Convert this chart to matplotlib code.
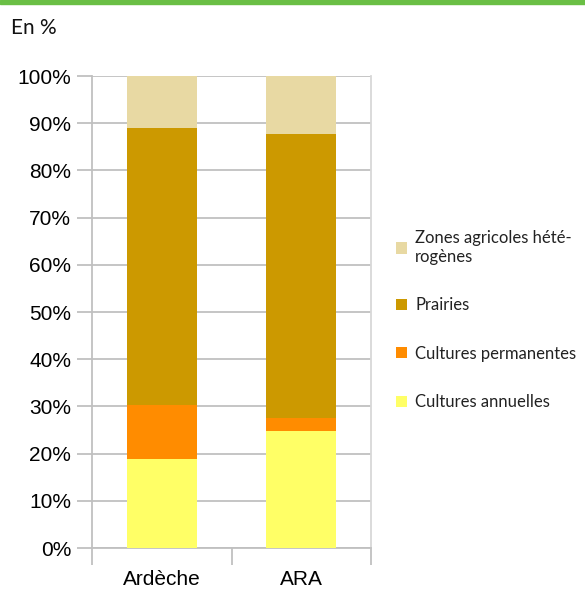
import numpy as np
import matplotlib
matplotlib.use("Agg")
import matplotlib.pyplot as plt
from matplotlib.patches import Patch

# data (in %)
categories = ["Ardèche", "ARA"]
series_names = ["Cultures annuelles", "Cultures permanentes", "Prairies",
                "Zones agricoles hété-\nrogènes"]
annuelles = [18.8, 24.7]
permanentes = [11.6, 2.8]
prairies = [58.6, 60.2]
zones_hetero = [11.0, 12.3]
colors = ["#ffff66", "#ff8c00", "#cc9900", "#e8d9a3"]

series = [annuelles, permanentes, prairies, zones_hetero]

fig = plt.figure(figsize=(5.85, 5.92), dpi=100)
ax = fig.add_axes([92 / 585, 1 - 548 / 592, (371 - 92) / 585, (548 - 76) / 592])

x = np.arange(len(categories))
bottom = np.zeros(len(categories))
for vals, col in zip(series, colors):
    ax.bar(x, vals, width=0.5, bottom=bottom, color=col, zorder=3)
    bottom += np.array(vals)

ax.set_xlim(-0.5, 1.5)
ax.set_ylim(0, 100)
ax.set_yticks(np.arange(0, 101, 10))
ax.set_yticklabels([f"{v}%" for v in range(0, 101, 10)],
                   fontsize=15, family="Liberation Sans")
ax.yaxis.grid(True, color="#c0c0c0", linewidth=1.3, zorder=0)

# category labels in the middle, tick marks at the boundaries
ax.set_xticks(x)
ax.set_xticklabels(categories, fontsize=15, family="Liberation Sans")
ax.tick_params(axis="x", which="major", length=0, pad=16)
ax.set_xticks([-0.5, 0.5, 1.5], minor=True)
ax.tick_params(axis="x", which="minor", length=12, width=1.3, color="#c0c0c0")
ax.tick_params(axis="y", length=11, width=1.3, color="#c0c0c0", pad=4)

for side in ["left", "bottom"]:
    ax.spines[side].set_color("#c0c0c0")
    ax.spines[side].set_linewidth(1.3)
ax.spines["right"].set_color("#d8d8d8")
ax.spines["right"].set_linewidth(1.3)
ax.spines["top"].set_visible(False)

handles = [Patch(facecolor=c, label=n) for n, c in zip(series_names, colors)][::-1]
leg = fig.legend(handles=handles, loc="upper left",
                 bbox_to_anchor=(381 / 585, 1 - 215 / 592), frameon=False,
                 handlelength=0.65, handleheight=0.65, handletextpad=0.5,
                 labelspacing=1.95, prop={"family": "Lato", "size": 12})
for t in leg.get_texts():
    t.set_color("#222222")

# green band at the top and unit label
fig.patches.append(plt.Rectangle((0, 1 - 4 / 592), 1, 4 / 592,
                                 transform=fig.transFigure, color="#6abf45"))
fig.text(11 / 585, 1 - 28 / 592, "En %", fontsize=15, family="Lato",
         va="center", color="#111111")

fig.savefig("out.png", dpi=100)
